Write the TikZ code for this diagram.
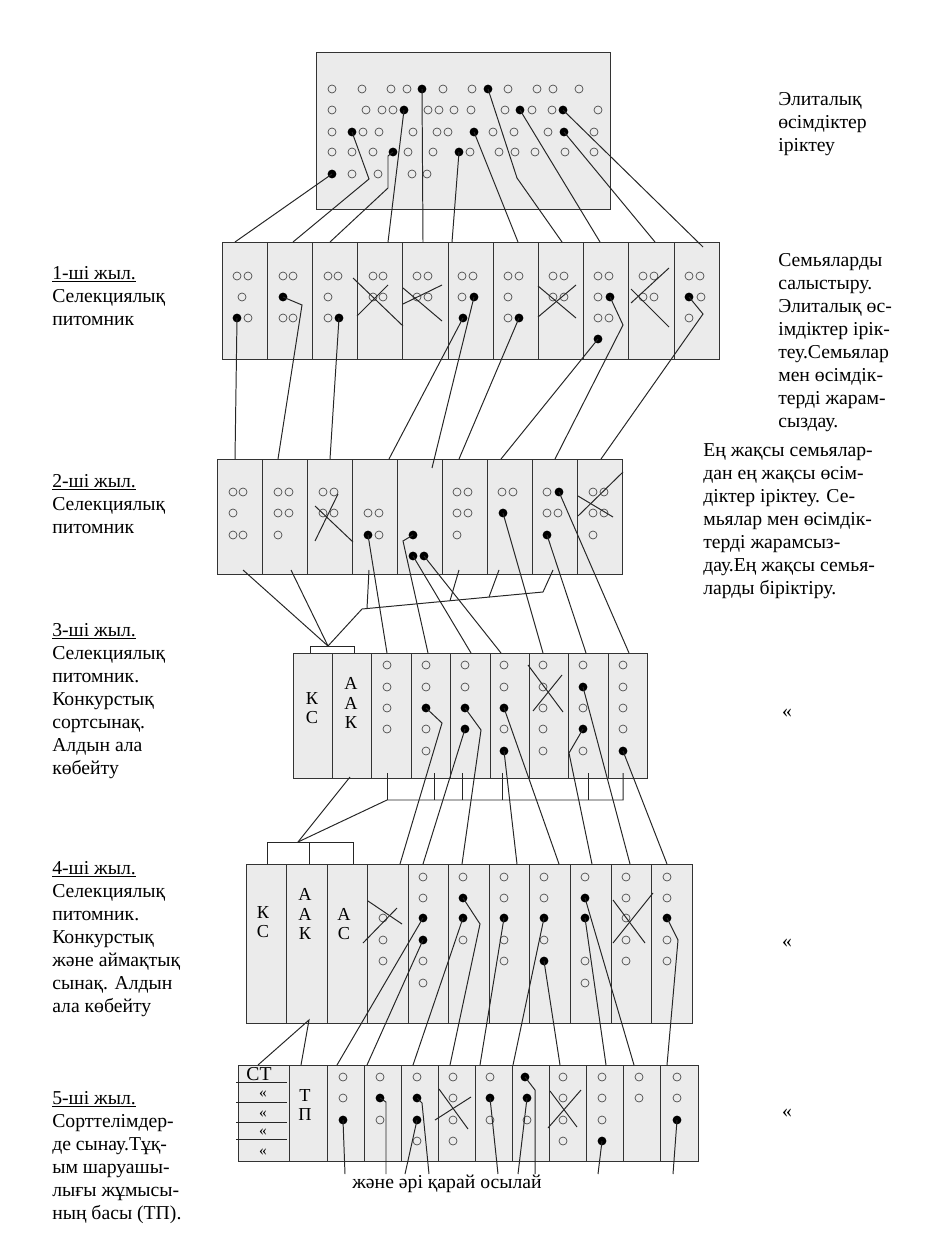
\documentclass[tikz,border=0pt]{standalone}
\usepackage{fontspec}
\setmainfont{Liberation Serif}
\usetikzlibrary{positioning,calc}

\tikzset{
  plot/.style={draw=black!80, fill=gray!16, line width=0.6pt},
  hole/.style={draw=black!70, line width=0.5pt},
  seed/.style={circle, fill=black, inner sep=0pt, minimum size=0.22cm},
  link/.style={draw=black!85, line width=0.7pt},
  note/.style={anchor=north west, align=left, inner sep=0pt, font=\fontsize{14}{16.4}\selectfont},
  tag/.style={align=center, inner sep=0pt, font=\fontsize{13}{13.6}\selectfont}
}

\begin{document}
\begin{tikzpicture}[x=0.025cm, y=-0.025cm]
  \useasboundingbox (0,0) rectangle (926,1233);

  % elite plants
  \draw[plot] (316,52) rectangle (610,209);
  \foreach \x in {332,362,391,407,443,472,508,537,553,579}
    \draw[hole] (\x,89) circle[radius=0.1cm];
  \foreach \x in {332,366,382,393,428,439,454,471,505,532,552,598}
    \draw[hole] (\x,110) circle[radius=0.1cm];
  \foreach \x in {332,363,379,413,437,448,493,514,548,594}
    \draw[hole] (\x,132) circle[radius=0.1cm];
  \foreach \x in {332,352,373,408,433,470,499,515,535,565,594}
    \draw[hole] (\x,152) circle[radius=0.1cm];
  \foreach \x in {352,378,412,427}
    \draw[hole] (\x,174) circle[radius=0.1cm];
  \foreach \n/\x/\y in {1/332/174, 2/352/132, 3/393/152, 4/404/110, 5/422/89, 6/459/152,
                        7/474/132, 8/488/89, 9/520/110, 10/564/132, 11/563/110}
    \node[seed] (s0-\n) at (\x,\y) {};

  % year 1
  \foreach \i in {0,...,10}
    \draw[plot] ({222+45.2*\i},242) rectangle ++(45.2,117);
  \foreach \n/\x in {1/235, 2/293, 3/330, 4/388, 5/423, 6/452, 7/518, 8/562, 9/600, 10/655}
    \coordinate (t1-\n) at (\x,242);
  \coordinate (t1-11) at (703,247);
  \foreach \x/\y in {237/276, 248/276, 242/297, 248/318, 283/276, 293/276, 283/318, 293/318,
                     328/276, 338/276, 328/297, 328/318, 373/276, 383/276, 373/297, 383/297,
                     417/276, 428/276, 417/297, 428/297, 462/276, 473/276, 462/297,
                     508/276, 519/276, 508/297, 508/318, 553/276, 564/276, 553/297, 564/297,
                     598/276, 609/276, 598/297, 598/318, 609/318, 643/276, 654/276, 643/297, 654/297,
                     689/276, 700/276, 701/297, 689/318}
    \draw[hole] (\x,\y) circle[radius=0.1cm];
  \foreach \a/\b/\c/\d in {353/278/403/326, 357/316/388/285, 403/304/442/285, 403/288/442/321,
                           538/286/576/318, 538/317/576/285, 631/289/669/327, 631/303/669/268}
    \draw[link] (\a,\b) -- (\c,\d);
  \foreach \n/\x/\y in {1/237/318, 2/283/297, 3/339/318, 4/463/318, 5/474/297,
                        6/519/318, 7/598/339, 8/610/297, 9/689/297}
    \node[seed] (s1-\n) at (\x,\y) {};
  \foreach \n in {1,4,5,6,7,9,10,11}
    \draw[link] (s0-\n.center) -- (t1-\n);
  \draw[link] (s0-2.center) -- (369,179) -- (t1-2);
  \draw[link] (s0-3.center) -- (388,156) -- (388,188) -- (t1-3);
  \draw[link] (s0-8.center) -- (517,178) -- (t1-8);

  % year 2
  \foreach \i in {0,...,8}
    \draw[plot] ({217+45.1*\i},459) rectangle ++(45.1,115);
  \foreach \n/\x in {1/235, 2/278, 3/330, 4/389, 6/459, 7/501, 8/555, 9/601}
    \coordinate (t2-\n) at (\x,459);
  \coordinate (t2-5) at (432,468);
  \foreach \x/\y in {233/492, 243/492, 233/513, 233/535, 243/535, 278/492, 289/492, 278/513, 289/513, 278/535,
                     323/492, 334/492, 323/513, 334/513, 368/513, 379/513, 379/535,
                     457/492, 468/492, 457/513, 468/513, 457/535, 502/492, 513/492,
                     547/492, 547/513, 558/513, 593/492, 604/492, 593/513, 604/513, 593/535}
    \draw[hole] (\x,\y) circle[radius=0.1cm];
  \foreach \a/\b/\c/\d in {315/506/353/542, 315/541/338/494, 578/496/613/517, 578/516/623/472}
    \draw[link] (\a,\b) -- (\c,\d);
  \foreach \n/\x/\y in {1/368/535, 2/413/535, 3/413/556, 4/424/556, 5/503/513, 6/547/535, 7/559/492}
    \node[seed] (s2-\n) at (\x,\y) {};
  \foreach \n in {1,3,4,5,6,7}
    \draw[link] (s1-\n.center) -- (t2-\n);
  \draw[link] (s1-2.center) -- (302,305) -- (t2-2);
  \draw[link] (s1-8.center) -- (623,325) -- (t2-8);
  \draw[link] (s1-9.center) -- (703,314) -- (t2-9);

  % join of year 2
  \coordinate (b3) at (328,646);
  \coordinate (j3) at (362,609);
  \draw[link] (310,653) -- (310,646) -- (354,646) -- (354,653);
  \draw[link] (243,570) -- (b3);
  \draw[link] (291,570) -- (b3);
  \draw[link] (553,570) -- (543,592) -- (j3) -- (b3);
  \draw[link] (369,570) -- (367,608.5);
  \draw[link] (459,570) -- (450,600.7);
  \draw[link] (499,570) -- (489,597);

  % year 3
  \foreach \i in {0,...,8}
    \draw[plot] ({293+39.4*\i},653) rectangle ++(39.4,125);
  \node[tag] (ks3) at (312,708) {К\\С};
  \node[tag] (aak3) at (351,703) {А\\А\\К};
  \foreach \n/\x in {1/387, 2/428, 3/471, 4/501, 5/543, 6/586, 7/629}
    \coordinate (t3-\n) at (\x,653);
  \foreach \x/\y in {387/665, 387/687, 387/708, 387/729, 426/665, 426/687, 426/729, 426/751,
                     465/665, 465/687, 504/665, 504/687, 504/729,
                     543/665, 543/687, 543/708, 543/729, 543/751, 583/665, 583/708, 583/751,
                     623/665, 623/687, 623/708, 623/729}
    \draw[hole] (\x,\y) circle[radius=0.1cm];
  \draw[link] (528,665) -- (563,712);
  \draw[link] (533,711) -- (562,675);
  \foreach \n/\x/\y in {1/426/708, 2/465/729, 3/465/708, 4/504/751, 5/504/708, 6/583/729, 7/583/687, 8/623/751}
    \node[seed] (s3-\n) at (\x,\y) {};
  \foreach \n in {1,3,4,5,6,7}
    \draw[link] (s2-\n.center) -- (t3-\n);
  \draw[link] (s2-2.center) -- (403,541) -- (t3-2);

  % join of year 3
  \coordinate (b4) at (298,842);
  \coordinate (j4) at (387,800);
  \draw[link] (267,864) -- (267,842) -- (353,842) -- (353,864);
  \draw[link] (309,842) -- (309,864);
  \draw[link] (623,773) -- (623,800) -- (j4) -- (b4);
  \foreach \x in {387,434,462,502,588}
    \draw[link] (\x,773) -- (\x,800);
  \draw[link] (350,777) -- (b4);

  % year 4
  \foreach \i in {0,...,10}
    \draw[plot] ({246+40.55*\i},864) rectangle ++(40.55,159);
  \node[tag] (ks4) at (263,922) {К\\С};
  \node[tag] (aak4) at (305,914) {А\\А\\К};
  \node[tag] (as4) at (344,924) {А\\С};
  \foreach \n/\x in {1/400, 2/423, 3/462, 4/517, 5/559, 6/592, 7/630, 8/667}
    \coordinate (t4-\n) at (\x,864);
  \foreach \x/\y in {383/918, 383/940, 383/961, 423/877, 423/898, 423/961, 423/983,
                     463/877, 463/940, 504/877, 504/898, 504/940, 504/961,
                     544/877, 544/898, 544/940, 585/877, 585/961, 585/983,
                     626/877, 626/898, 626/918, 626/940, 626/961, 667/877, 667/898, 667/940, 667/961}
    \draw[hole] (\x,\y) circle[radius=0.1cm];
  \foreach \a/\b/\c/\d in {368/901/402/924, 363/943/397/908, 613/900/645/943, 613/943/653/893}
    \draw[link] (\a,\b) -- (\c,\d);
  \foreach \n/\x/\y in {1/423/918, 2/423/940, 3/463/918, 4/463/898, 5/504/918,
                        6/544/918, 7/544/961, 8/585/918, 9/585/898, 10/667/918}
    \node[seed] (s4-\n) at (\x,\y) {};
  \foreach \n in {2,4,5,7,8}
    \draw[link] (s3-\n.center) -- (t4-\n);
  \draw[link] (s3-1.center) -- (442,723) -- (t4-1);
  \draw[link] (s3-3.center) -- (481,730) -- (t4-3);
  \draw[link] (s3-6.center) -- (569,753) -- (t4-6);

  % year 5
  \draw[plot] (238,1065) rectangle (289,1161);
  \draw[plot] (289,1065) rectangle (327,1161);
  \foreach \i in {0,...,9}
    \draw[plot] ({327+37.1*\i},1065) rectangle ++(37.1,96);
  \node[tag, font=\fontsize{14}{14}\selectfont] (st) at (259,1074) {СТ};
  \foreach \y in {1082,1102,1122,1139}
    \draw[link, line width=0.6pt] (236,\y) -- (287,\y);
  \foreach \n/\y in {1/1094, 2/1114, 3/1132, 4/1152}
    \node[tag, font=\fontsize{11}{11}\selectfont] (same-\n) at (263,\y) {«};
  \node[tag] (tp) at (305,1105) {Т\\П};
  \coordinate (k5) at (309,1020);
  \draw[link] (258,1065) -- (k5) -- (301,1065);
  \foreach \n/\x in {1/337, 2/367, 3/413, 4/450, 5/480, 6/513, 7/560, 8/606, 9/634, 10/667}
    \coordinate (t5-\n) at (\x,1065);
  \foreach \x/\y in {343/1077, 343/1098, 380/1077, 380/1120, 417/1077, 417/1141,
                     453/1077, 453/1098, 453/1120, 453/1141, 490/1077, 490/1120, 527/1120,
                     563/1077, 563/1098, 563/1120, 563/1141, 602/1077, 602/1098, 602/1120,
                     639/1077, 639/1098, 677/1077, 677/1098}
    \draw[hole] (\x,\y) circle[radius=0.1cm];
  \foreach \a/\b/\c/\d in {439/1089/468/1129, 435/1120/471/1097, 550/1091/577/1127, 548/1128/581/1090}
    \draw[link] (\a,\b) -- (\c,\d);
  \foreach \n/\x/\y in {1/343/1120, 2/380/1098, 3/417/1098, 4/417/1120, 5/490/1098,
                        6/525/1077, 7/527/1098, 8/602/1141, 9/677/1120}
    \node[seed] (s5-\n) at (\x,\y) {};
  \foreach \n in {1,2,3,5,6,7,8,9}
    \draw[link] (s4-\n.center) -- (t5-\n);
  \draw[link] (s4-4.center) -- (480,924) -- (t5-4);
  \draw[link] (s4-10.center) -- (678,940) -- (t5-10);

  % further on
  \foreach \n/\x in {1/345, 2/386, 3/429, 4/405, 5/498, 6/535, 7/518, 8/598, 9/673}
    \coordinate (e-\n) at (\x,1174);
  \foreach \n in {1,4,5,7,8,9}
    \draw[link] (s5-\n.center) -- (e-\n);
  \draw[link] (s5-2.center) -- (386,1102) -- (e-2);
  \draw[link] (s5-3.center) -- (422,1103) -- (e-3);
  \draw[link] (s5-6.center) -- (535,1090) -- (e-6);
  \node[tag, font=\fontsize{14}{14}\selectfont] (further) at (447,1184) {және әрі қарай осылай};

  % years
  \node[note] (year1) at (52,266) {\underline{1-ші жыл.}\\Селекциялық\\питомник};
  \node[note] (year2) at (52,474) {\underline{2-ші жыл.}\\Селекциялық\\питомник};
  \node[note] (year3) at (52,623) {\underline{3-ші жыл.}\\Селекциялық\\питомник.\\Конкурстық\\сортсынақ.\\Алдын ала\\көбейту};
  \node[note] (year4) at (52,861) {\underline{4-ші жыл.}\\Селекциялық\\питомник.\\Конкурстық\\және аймақтық\\сынақ. Алдын\\ала көбейту};
  \node[note] (year5) at (52,1091) {\underline{5-ші жыл.}\\Сорттелімдер-\\де сынау.Тұқ-\\ым шаруашы-\\лығы жұмысы-\\ның басы (ТП).};

  % tasks
  \node[note] (task1) at (778,92) {Элиталық\\өсімдіктер\\іріктеу};
  \node[note] (task2) at (778,253) {Семьяларды\\салыстыру.\\Элиталық өс-\\імдіктер ірік-\\теу.Семьялар\\мен өсімдік-\\терді жарам-\\сыздау.};
  \node[note] (task3) at (703,443) {Ең жақсы семьялар-\\дан ең жақсы өсім-\\діктер іріктеу. Се-\\мьялар мен өсімдік-\\терді жарамсыз-\\дау.Ең жақсы семья-\\ларды біріктіру.};
  \node[tag, font=\fontsize{14}{14}\selectfont] (task4) at (787,713) {«};
  \node[tag, font=\fontsize{14}{14}\selectfont] (task5) at (787,943) {«};
  \node[tag, font=\fontsize{14}{14}\selectfont] (task6) at (787,1113) {«};
\end{tikzpicture}
\end{document}
